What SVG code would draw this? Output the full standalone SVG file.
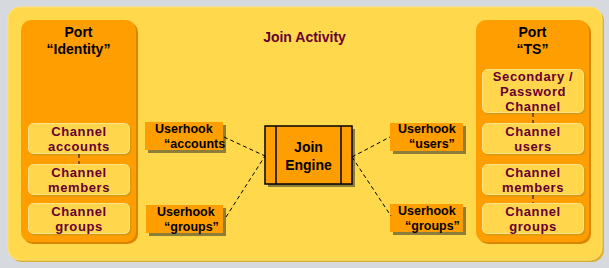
<svg xmlns="http://www.w3.org/2000/svg" width="609" height="268" viewBox="0 0 609 268">
<style>
.t{font-family:"Liberation Sans",Arial,sans-serif;font-weight:bold;font-size:14px;text-anchor:middle}
.n{font-size:13px;letter-spacing:0.6px}
.k{fill:#000}
.m{fill:#660033}
.u{font-family:"Liberation Sans",Arial,sans-serif;font-weight:bold;font-size:12.5px;fill:#000}
.port{fill:#FF9E00}
.portsh{fill:#DB8400}
.ch{fill:#FFD64C;stroke:#FFE58A;stroke-width:1}
.chsh{fill:#D99A10}
.uh{fill:#FF9E00}
.uhsh{fill:#8C7D3A}
.c{fill:none;stroke:#000;stroke-width:1;stroke-dasharray:4 3}
</style>
<rect width="609" height="268" fill="#D6DADE"/>
<g id="activity">
<rect x="10" y="9" width="594" height="253" rx="12" fill="#DDB030"/>
<rect x="8" y="7" width="594" height="253" rx="12" fill="#FFD84C" stroke="#FFE27A" stroke-width="1"/>
<text class="t m" x="304.5" y="42">Join Activity</text>
</g>
<g id="port-identity">
<rect x="23" y="22" width="115" height="222" rx="10" class="portsh"/>
<rect x="21" y="20" width="115" height="222" rx="10" class="port"/>
<text class="t k" x="78.5" y="37">Port</text>
<text class="t k" x="78.5" y="54">“Identity”</text>
</g>
<g id="ch-accounts">
<rect x="29.5" y="124.5" width="102" height="31" rx="5" class="chsh"/>
<rect x="28.5" y="123.5" width="101" height="30" rx="5" class="ch"/>
<text class="t n m" x="79" y="135.5">Channel</text>
<text class="t n m" x="79" y="150.5">accounts</text>
</g>
<g id="ch-members-l">
<rect x="29.5" y="165.5" width="102" height="31" rx="5" class="chsh"/>
<rect x="28.5" y="164.5" width="101" height="30" rx="5" class="ch"/>
<text class="t n m" x="79" y="176.5">Channel</text>
<text class="t n m" x="79" y="191.5">members</text>
</g>
<g id="ch-groups-l">
<rect x="29.5" y="204.5" width="102" height="31" rx="5" class="chsh"/>
<rect x="28.5" y="203.5" width="101" height="30" rx="5" class="ch"/>
<text class="t n m" x="79" y="215.5">Channel</text>
<text class="t n m" x="79" y="230.5">groups</text>
</g>
<g id="port-ts">
<rect x="478" y="22" width="113" height="222" rx="10" class="portsh"/>
<rect x="476" y="20" width="113" height="222" rx="10" class="port"/>
<text class="t k" x="532.5" y="37">Port</text>
<text class="t k" x="532.5" y="54">“TS”</text>
</g>
<g id="ch-secondary">
<rect x="483.5" y="70.5" width="102" height="44" rx="5" class="chsh"/>
<rect x="482.5" y="69.5" width="101" height="43" rx="5" class="ch"/>
<text class="t n m" x="533" y="81">Secondary /</text>
<text class="t n m" x="533" y="96">Password</text>
<text class="t n m" x="533" y="111">Channel</text>
</g>
<g id="ch-users">
<rect x="483.5" y="124.5" width="102" height="31" rx="5" class="chsh"/>
<rect x="482.5" y="123.5" width="101" height="30" rx="5" class="ch"/>
<text class="t n m" x="533" y="135.5">Channel</text>
<text class="t n m" x="533" y="150.5">users</text>
</g>
<g id="ch-members-r">
<rect x="483.5" y="165.5" width="102" height="31" rx="5" class="chsh"/>
<rect x="482.5" y="164.5" width="101" height="30" rx="5" class="ch"/>
<text class="t n m" x="533" y="176.5">Channel</text>
<text class="t n m" x="533" y="191.5">members</text>
</g>
<g id="ch-groups-r">
<rect x="483.5" y="204.5" width="102" height="31" rx="5" class="chsh"/>
<rect x="482.5" y="203.5" width="101" height="30" rx="5" class="ch"/>
<text class="t n m" x="533" y="215.5">Channel</text>
<text class="t n m" x="533" y="230.5">groups</text>
</g>
<g id="uh-accounts">
<rect x="148" y="125" width="78" height="28" class="uhsh"/>
<rect x="145" y="122" width="78" height="28" class="uh"/>
<text class="u" x="155" y="132.5">Userhook</text>
<text class="u" x="164" y="147.5">“accounts</text>
</g>
<g id="uh-groups-l">
<rect x="149" y="208" width="77" height="28" class="uhsh"/>
<rect x="146" y="205" width="77" height="28" class="uh"/>
<text class="u" x="157" y="215.5">Userhook</text>
<text class="u" x="164" y="230.5">“groups”</text>
</g>
<g id="uh-users">
<rect x="393" y="126" width="73" height="28" class="uhsh"/>
<rect x="390" y="123" width="73" height="28" class="uh"/>
<text class="u" x="398" y="133">Userhook</text>
<text class="u" x="409" y="148">“users”</text>
</g>
<g id="uh-groups-r">
<rect x="393" y="207" width="73" height="28" class="uhsh"/>
<rect x="390" y="204" width="73" height="28" class="uh"/>
<text class="u" x="398" y="214.5">Userhook</text>
<text class="u" x="405" y="229.5">“groups”</text>
</g>
<g id="join-engine">
<rect x="268" y="129" width="87" height="58" fill="#8C7D3A"/>
<rect x="265" y="126" width="87" height="58" fill="#FF9E00" stroke="#000" stroke-width="1.5"/>
<line x1="276" y1="126" x2="276" y2="184" stroke="#000" stroke-width="1.5"/>
<line x1="341" y1="126" x2="341" y2="184" stroke="#000" stroke-width="1.5"/>
<text class="t k" x="308.5" y="152">Join</text>
<text class="t k" x="308.5" y="170">Engine</text>
</g>
<g id="connectors">
<line class="c" x1="79" y1="154" x2="79" y2="164"/>
<line class="c" x1="533" y1="113" x2="533" y2="123"/>
<line class="c" x1="533" y1="195" x2="533" y2="203"/>
<line class="c" x1="224" y1="137" x2="265" y2="156"/>
<line class="c" x1="226" y1="217" x2="265" y2="156"/>
<line class="c" x1="352" y1="157" x2="390" y2="137"/>
<line class="c" x1="352" y1="157" x2="391" y2="216"/>
</g>
</svg>
